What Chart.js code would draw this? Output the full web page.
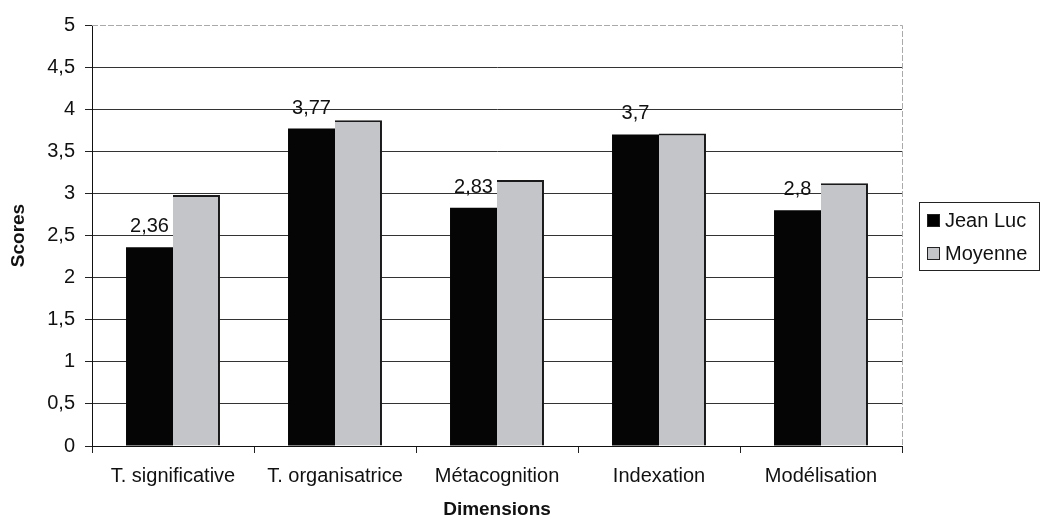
<!DOCTYPE html>
<html>
<head>
<meta charset="utf-8">
<script src="https://cdn.jsdelivr.net/npm/chart.js@4/dist/chart.umd.min.js"></script>
<style>
    html, body { margin: 0; padding: 0; background: #fff; }
    #wrap { width: 1040px; height: 521px; position: relative; }
</style>
</head>
<body>
<div id="wrap"><canvas id="chart"></canvas></div>
<script>
const dimensions = ['T. significative', 'T. organisatrice', 'Métacognition', 'Indexation', 'Modélisation'];
const jeanLuc = [2.36, 3.77, 2.83, 3.7, 2.8];
const moyenne = [2.98, 3.87, 3.16, 3.71, 3.12];
const seriesNames = ['Jean Luc', 'Moyenne'];

const FONT = '"Liberation Sans", Arial, sans-serif';
const fmt = v => String(v).replace('.', ',');

// étiquettes au-dessus des barres de Jean Luc
const valueLabels = {
    id: 'valueLabels',
    afterDatasetsDraw(chart) {
        const { ctx } = chart;
        const meta = chart.getDatasetMeta(0);
        ctx.save();
        ctx.font = '20px ' + FONT;
        ctx.fillStyle = '#111';
        ctx.textAlign = 'center';
        ctx.textBaseline = 'alphabetic';
        meta.data.forEach((bar, i) => {
            ctx.fillText(fmt(jeanLuc[i]), bar.x, bar.y - 15);
        });
        ctx.restore();
    }
};

// bordure de la zone de tracé + légende encadrée
const frameAndLegend = {
    id: 'frameAndLegend',
    afterDraw(chart) {
        const { ctx, chartArea: a } = chart;
        ctx.save();
        ctx.strokeStyle = '#aaa';
        ctx.lineWidth = 1;
        ctx.setLineDash([6, 2]);
        ctx.beginPath();
        ctx.moveTo(a.left, a.top + 0.5);
        ctx.lineTo(a.right + 0.5, a.top + 0.5);
        ctx.lineTo(a.right + 0.5, a.bottom);
        ctx.stroke();
        ctx.setLineDash([]);

        // légende
        const lx = 919, ly = 202, lw = 120, lh = 68;
        ctx.strokeStyle = '#222';
        ctx.strokeRect(lx + 0.5, ly + 0.5, lw, lh);
        const colors = ['#000', '#c3c5c8'];
        ctx.font = '20px ' + FONT;
        ctx.textBaseline = 'middle';
        ctx.textAlign = 'left';
        seriesNames.forEach((name, i) => {
            const cy = ly + 18 + i * 33;
            ctx.fillStyle = colors[i];
            ctx.fillRect(lx + 8, cy - 6, 13, 13);
            ctx.strokeStyle = '#222';
            ctx.strokeRect(lx + 8.5, cy - 5.5, 12, 12);
            ctx.fillStyle = '#111';
            ctx.fillText(name, lx + 26, cy + 1);
        });
        ctx.restore();
    }
};

new Chart(document.getElementById('chart'), {
    type: 'bar',
    data: {
        labels: dimensions,
        datasets: [
            {
                label: seriesNames[0],
                data: jeanLuc,
                backgroundColor: '#050505',
                borderWidth: 0
            },
            {
                label: seriesNames[1],
                data: moyenne,
                backgroundColor: '#c3c5c8',
                borderColor: '#1a1a1a',
                borderWidth: { top: 2, right: 2, left: 0, bottom: 0 },
                borderSkipped: false
            }
        ]
    },
    options: {
        responsive: true,
        maintainAspectRatio: false,
        animation: false,
        layout: { padding: { left: 0, right: 138, top: 25, bottom: 0 } },
        plugins: {
            legend: { display: false },
            tooltip: { enabled: false }
        },
        datasets: {
            bar: { categoryPercentage: 0.58, barPercentage: 1 }
        },
        scales: {
            x: {
                offset: true,
                grid: {
                    offset: true,
                    drawOnChartArea: false,
                    drawTicks: true,
                    tickLength: 7,
                    color: '#222'
                },
                border: { color: '#111', width: 1 },
                ticks: {
                    color: '#111',
                    font: { family: FONT, size: 20 },
                    padding: 11,
                    maxRotation: 0,
                    autoSkip: false
                },
                title: {
                    display: true,
                    text: 'Dimensions',
                    color: '#111',
                    font: { family: FONT, size: 19, weight: 'bold' },
                    padding: { top: 7, bottom: 0 }
                },
                afterFit(scale) { scale.height = 75; }
            },
            y: {
                min: 0,
                max: 5,
                ticks: {
                    stepSize: 0.5,
                    color: '#111',
                    font: { family: FONT, size: 20 },
                    padding: 10,
                    callback: v => fmt(v)
                },
                grid: {
                    color: ctx => ctx.tick && ctx.tick.value === 5 ? 'rgba(0,0,0,0)' : '#333',
                    lineWidth: 1,
                    tickLength: 7,
                    tickColor: '#222'
                },
                border: { color: '#111', width: 1 },
                title: {
                    display: true,
                    text: 'Scores',
                    color: '#111',
                    font: { family: FONT, size: 19, weight: 'bold' },
                    padding: { top: 7, bottom: 0 }
                },
                afterFit(scale) { scale.width = 92; }
            }
        }
    },
    plugins: [valueLabels, frameAndLegend]
});
</script>
</body>
</html>
